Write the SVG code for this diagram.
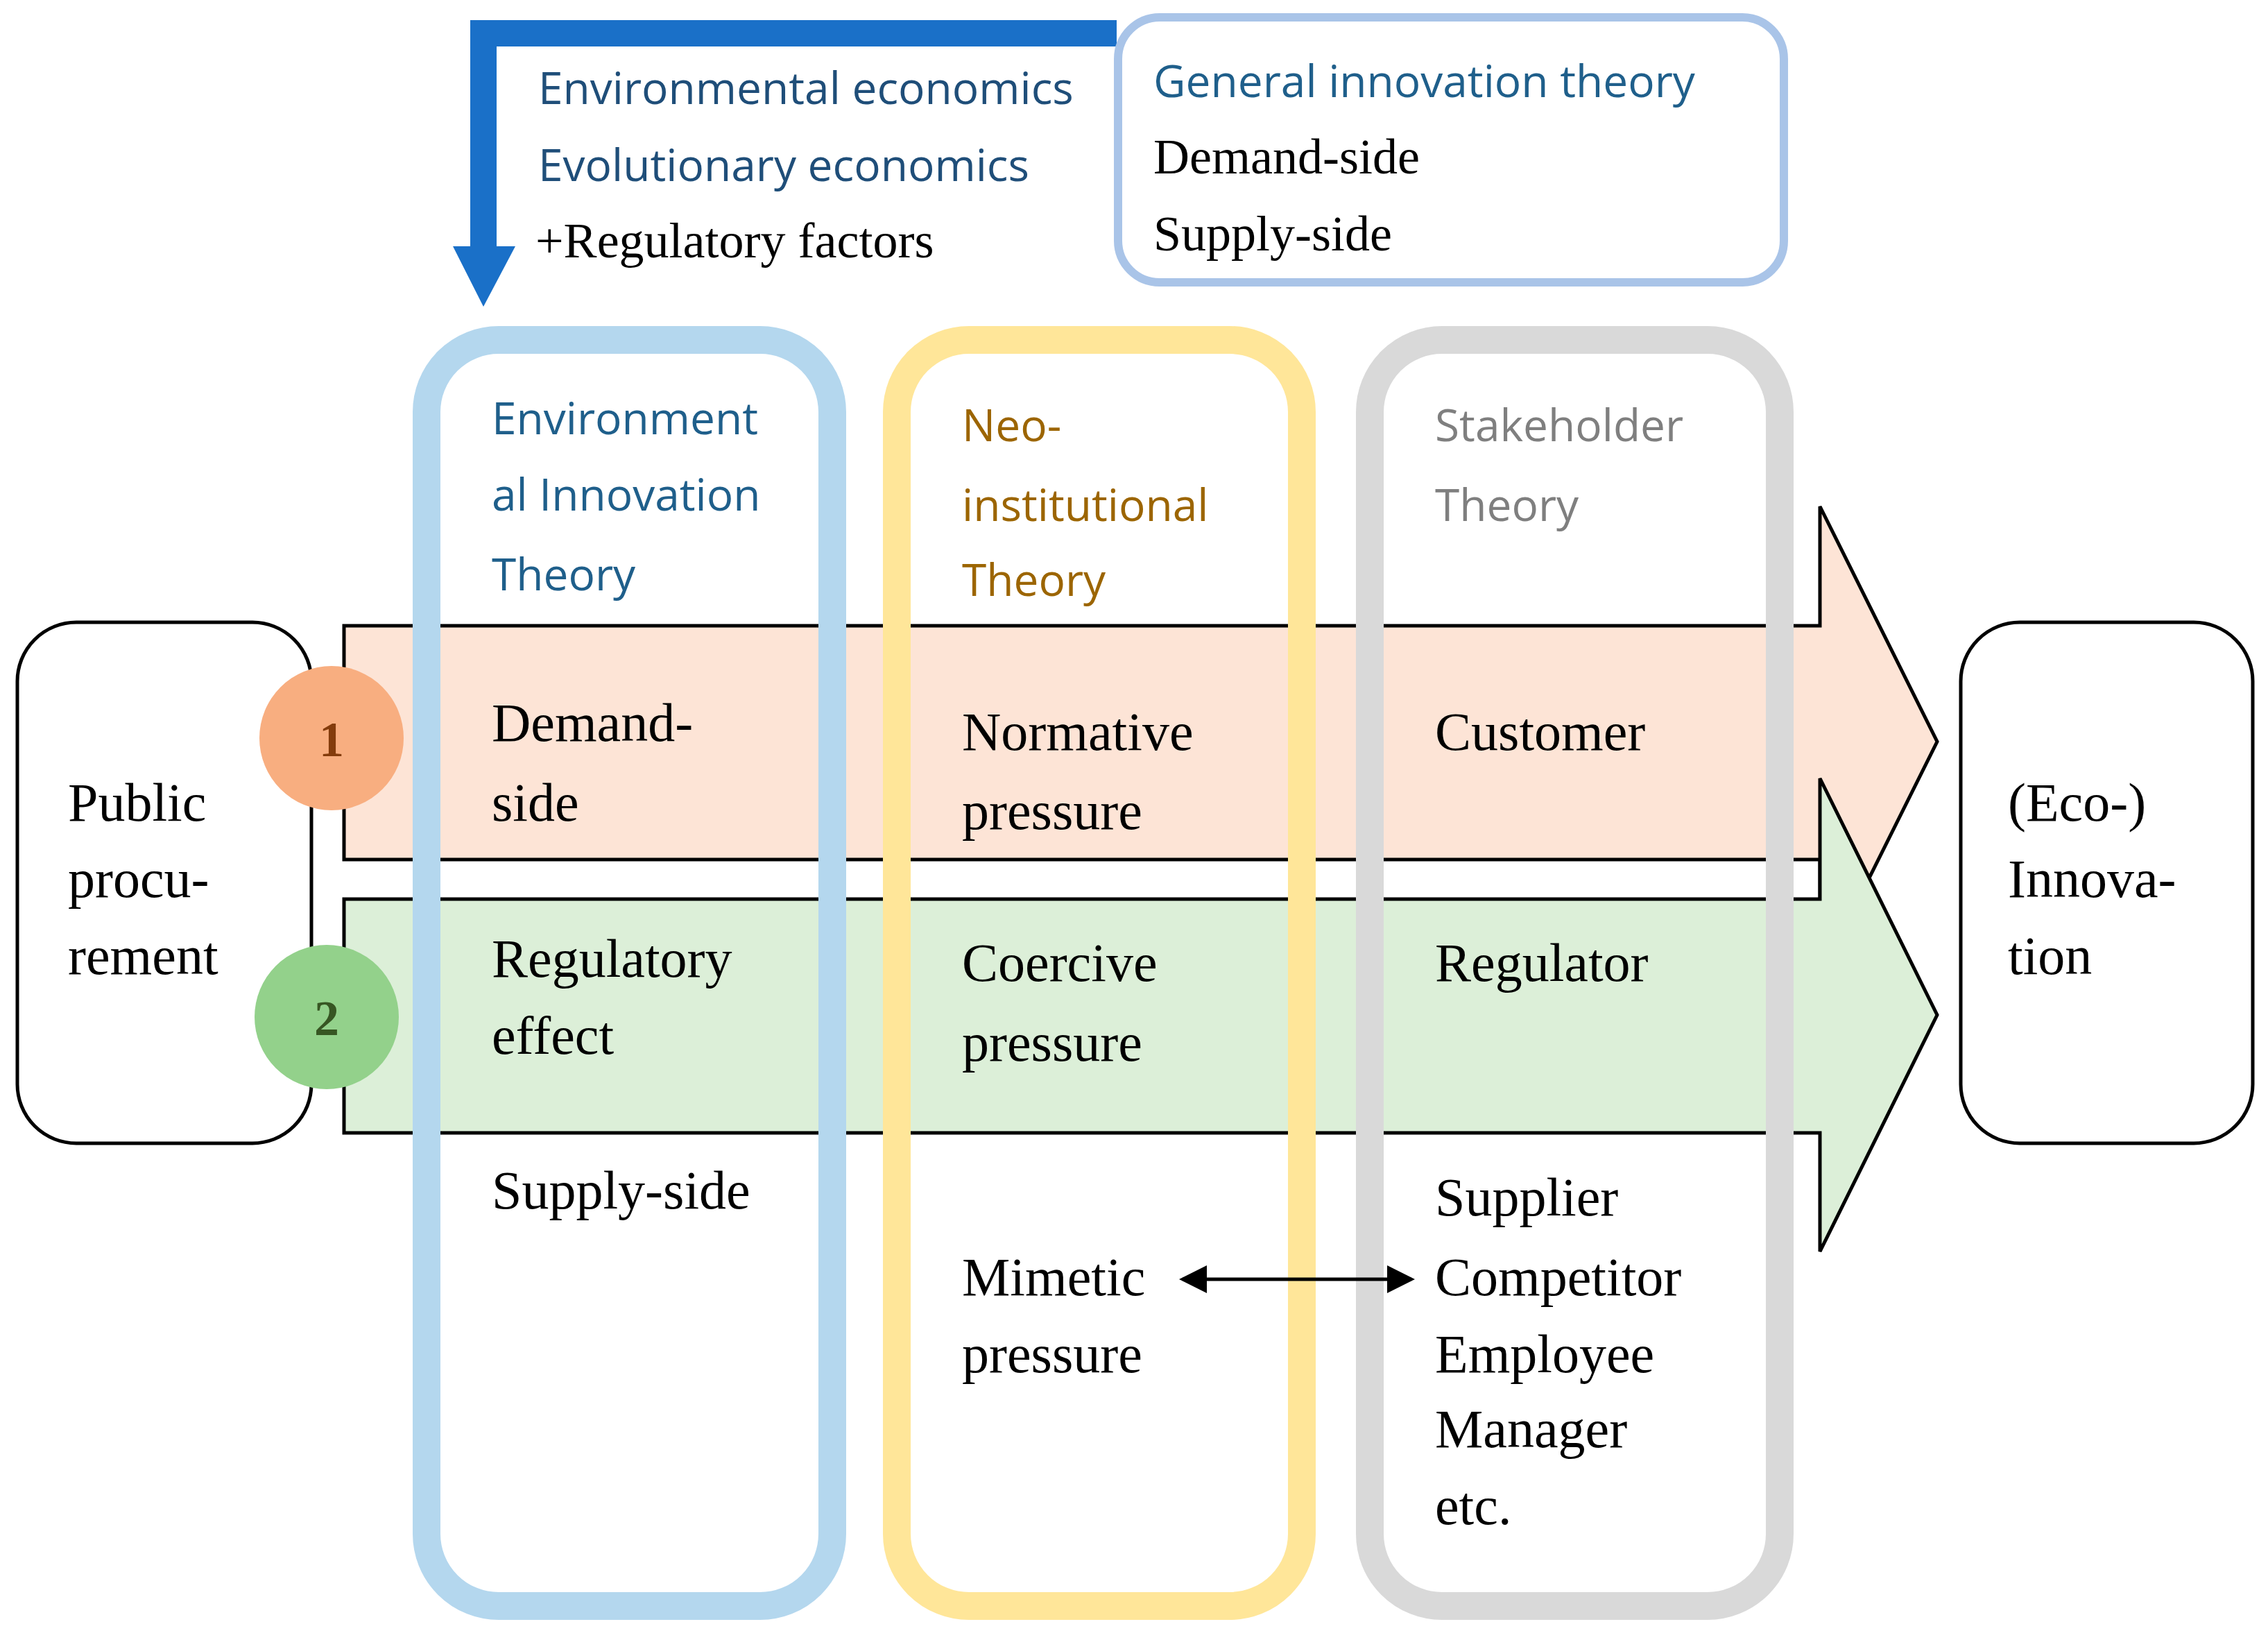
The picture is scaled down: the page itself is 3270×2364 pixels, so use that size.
<svg xmlns="http://www.w3.org/2000/svg" width="3270" height="2364" viewBox="0 0 3270 2364">
<style>
.s{font-family:"Open Sans","Noto Sans",sans-serif;font-size:64px}
.r{font-family:"Liberation Serif","Times New Roman",serif;font-size:78px;fill:#000}
.box{fill:#fff;stroke:#000;stroke-width:5}
.col{fill:none;stroke-width:40}
.arr{stroke:#000;stroke-width:5}
</style>
<defs>
<marker id="ah" markerWidth="8" markerHeight="8" refX="7" refY="4" orient="auto-start-reverse" markerUnits="strokeWidth"><path d="M0,0 L8,4 L0,8 z" fill="#000"/></marker>
</defs>
<rect width="3270" height="2364" fill="#fff"/>
<g id="blue-arrow">
<path d="M1610,29 H678 V355 H653 L697,442 L743,355 H716 V67 H1610 Z" fill="#1a70c8"/>
<text class="s" x="776" y="150" fill="#1f4e79">Environmental economics</text>
<text class="s" x="776" y="261" fill="#1f4e79">Evolutionary economics</text>
<text class="r" x="772" y="371" style="font-size:72px">+Regulatory factors</text>
</g>
<g id="general">
<rect x="1612" y="25" width="960" height="382" rx="60" fill="#fff" stroke="#a9c4e8" stroke-width="12"/>
<text class="s" x="1663" y="140" fill="#1f5f8b">General innovation theory</text>
<text class="r" x="1663" y="250" style="font-size:72px">Demand-side</text>
<text class="r" x="1663" y="361" style="font-size:72px">Supply-side</text>
</g>
<g id="pink-arrow"><path class="arr" d="M496,902 H2624 V730 L2793,1069 L2624,1408 V1239 H496 Z" fill="#fde4d6"/></g>
<g id="green-arrow"><path class="arr" d="M496,1296 H2624 V1122 L2793,1463 L2624,1804 V1633 H496 Z" fill="#dcefd8"/></g>
<g id="public"><rect class="box" x="25" y="897" width="424" height="751" rx="85"/>
<text class="r" x="98" y="1183">Public</text><text class="r" x="98" y="1293">procu-</text><text class="r" x="98" y="1404">rement</text></g>
<g id="eco"><rect class="box" x="2827" y="897" width="421" height="751" rx="85"/>
<text class="r" x="2895" y="1183">(Eco-)</text><text class="r" x="2895" y="1293">Innova-</text><text class="r" x="2895" y="1404">tion</text></g>
<g id="c1"><circle cx="478" cy="1064" r="104" fill="#f8ae80"/><text class="r" x="478" y="1090" text-anchor="middle" fill="#843c0c" style="fill:#843c0c;font-weight:bold;font-size:72px">1</text></g>
<g id="c2"><circle cx="471" cy="1466" r="104" fill="#93d18b"/><text class="r" x="471" y="1492" text-anchor="middle" style="fill:#375623;font-weight:bold;font-size:72px">2</text></g>
<g id="col-env">
<rect class="col" x="615" y="490" width="585" height="1825" rx="104" stroke="#b4d7ee"/>
<text class="s" x="709" y="626" fill="#1f5f8b">Environment</text>
<text class="s" x="709" y="736" fill="#1f5f8b">al Innovation</text>
<text class="s" x="709" y="851" fill="#1f5f8b">Theory</text>
<text class="r" x="709" y="1068">Demand-</text><text class="r" x="709" y="1183">side</text>
<text class="r" x="709" y="1408">Regulatory</text><text class="r" x="709" y="1519">effect</text>
<text class="r" x="709" y="1742">Supply-side</text>
</g>
<g id="col-neo">
<rect class="col" x="1293" y="490" width="584" height="1825" rx="104" stroke="#ffe699"/>
<text class="s" x="1387" y="636" fill="#9c6500">Neo-</text>
<text class="s" x="1387" y="751" fill="#9c6500">institutional</text>
<text class="s" x="1387" y="859" fill="#9c6500">Theory</text>
<text class="r" x="1387" y="1081">Normative</text><text class="r" x="1387" y="1195">pressure</text>
<text class="r" x="1387" y="1414">Coercive</text><text class="r" x="1387" y="1529">pressure</text>
<text class="r" x="1387" y="1867">Mimetic</text><text class="r" x="1387" y="1978">pressure</text>
</g>
<g id="col-stake">
<rect class="col" x="1975" y="490" width="591" height="1825" rx="104" stroke="#d9d9d9"/>
<text class="s" x="2069" y="636" fill="#7f7f7f">Stakeholder</text>
<text class="s" x="2069" y="751" fill="#7f7f7f">Theory</text>
<text class="r" x="2069" y="1081">Customer</text>
<text class="r" x="2069" y="1414">Regulator</text>
<text class="r" x="2069" y="1752">Supplier</text><text class="r" x="2069" y="1867">Competitor</text>
<text class="r" x="2069" y="1978">Employee</text><text class="r" x="2069" y="2086">Manager</text><text class="r" x="2069" y="2197">etc.</text>
</g>
<g id="connectors"><line x1="1705" y1="1844" x2="2035" y2="1844" stroke="#000" stroke-width="5" marker-start="url(#ah)" marker-end="url(#ah)"/></g>
</svg>
